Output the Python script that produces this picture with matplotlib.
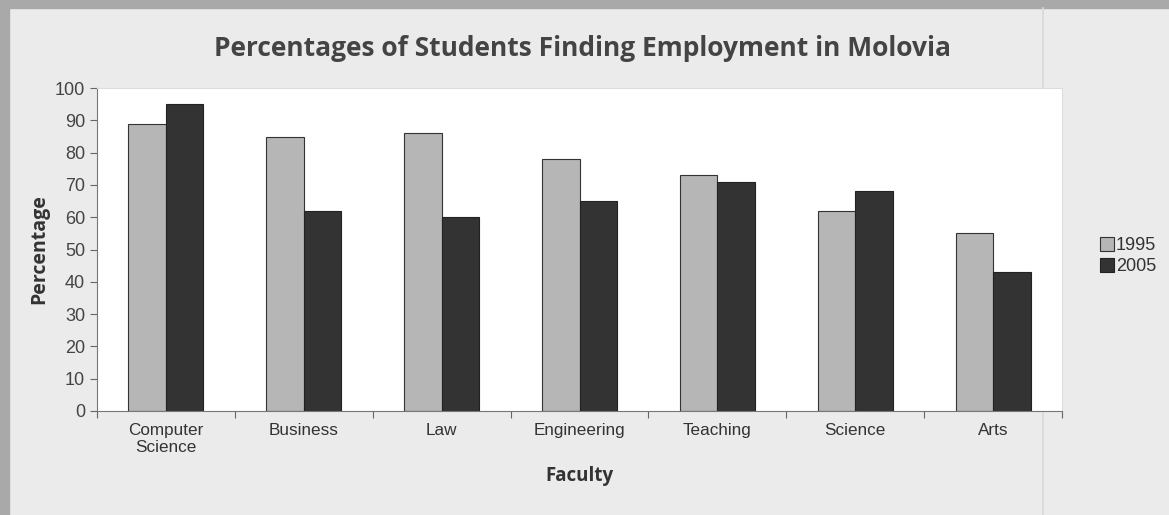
import matplotlib.pyplot as plt
import matplotlib.patches as patches
import matplotlib.lines as mlines
import numpy as np

faculties = ['Computer\nScience', 'Business', 'Law', 'Engineering', 'Teaching', 'Science', 'Arts']
y1995 = [89, 85, 86, 78, 73, 62, 55]
y2005 = [95, 62, 60, 65, 71, 68, 43]

fig = plt.figure(figsize=(11.69, 5.15), dpi=100, facecolor='#ebebeb')
# scanned page edges: grey strip on top and left, faint fold line on the right
fig.patches.append(patches.Rectangle((0, 0.984), 1, 0.016, transform=fig.transFigure,
                                     color='#a9a9a9', zorder=-2))
fig.patches.append(patches.Rectangle((0, 0), 0.0075, 1, transform=fig.transFigure,
                                     color='#a9a9a9', zorder=-2))
fig.lines.append(mlines.Line2D([0.892, 0.892], [0, 0.984], transform=fig.transFigure,
                               color='#d8d8d8', linewidth=1.2, zorder=-1))

ax = fig.add_axes([0.083, 0.202, 0.8255, 0.627])
ax.set_facecolor('white')

x = np.arange(len(faculties))
w = 0.272
ax.bar(x - w / 2, y1995, w, color='#b6b6b6', edgecolor='#333333', linewidth=0.8, label='1995')
ax.bar(x + w / 2, y2005, w, color='#333333', edgecolor='#222222', linewidth=0.8, label='2005')

ax.set_xlim(-0.5, len(faculties) - 0.5)
ax.set_ylim(0, 100)
ax.set_yticks(range(0, 101, 10))
ax.set_xticks(np.arange(-0.5, len(faculties), 1))
ax.set_xticklabels([])
ax.set_xticks(x, minor=True)
ax.set_xticklabels(faculties, minor=True, fontsize=12.3, family='Liberation Sans', color='#333333',
                   linespacing=1.15)
ax.tick_params(axis='x', which='minor', length=0, pad=9)
ax.tick_params(axis='x', which='major', length=5, color='#666666')
ax.tick_params(axis='y', length=5, color='#666666', labelsize=13, labelcolor='#444444')
for t in ax.get_yticklabels():
    t.set_family('Liberation Sans')

for s in ['top', 'right']:
    ax.spines[s].set_color('#dddddd')
for s in ['left', 'bottom']:
    ax.spines[s].set_color('#777777')

ax.set_ylabel('Percentage', fontsize=14, fontweight='bold', family='Open Sans', color='#333333', labelpad=4)
ax.set_xlabel('Faculty', fontsize=13.5, fontweight='bold', family='Open Sans', color='#333333', labelpad=8)
fig.text(0.498, 0.905, 'Percentages of Students Finding Employment in Molovia', ha='center', va='center',
         fontsize=19, fontweight='bold', family='Open Sans', color='#444444')

leg = ax.legend(loc='center left', bbox_to_anchor=(1.022, 0.48), frameon=False,
                prop={'family': 'Liberation Sans', 'size': 13}, handlelength=0.8,
                handleheight=0.8, handletextpad=0.1, labelspacing=0.2)
for t in leg.get_texts():
    t.set_color('#333333')

fig.savefig('out.png', dpi=100, facecolor=fig.get_facecolor())
